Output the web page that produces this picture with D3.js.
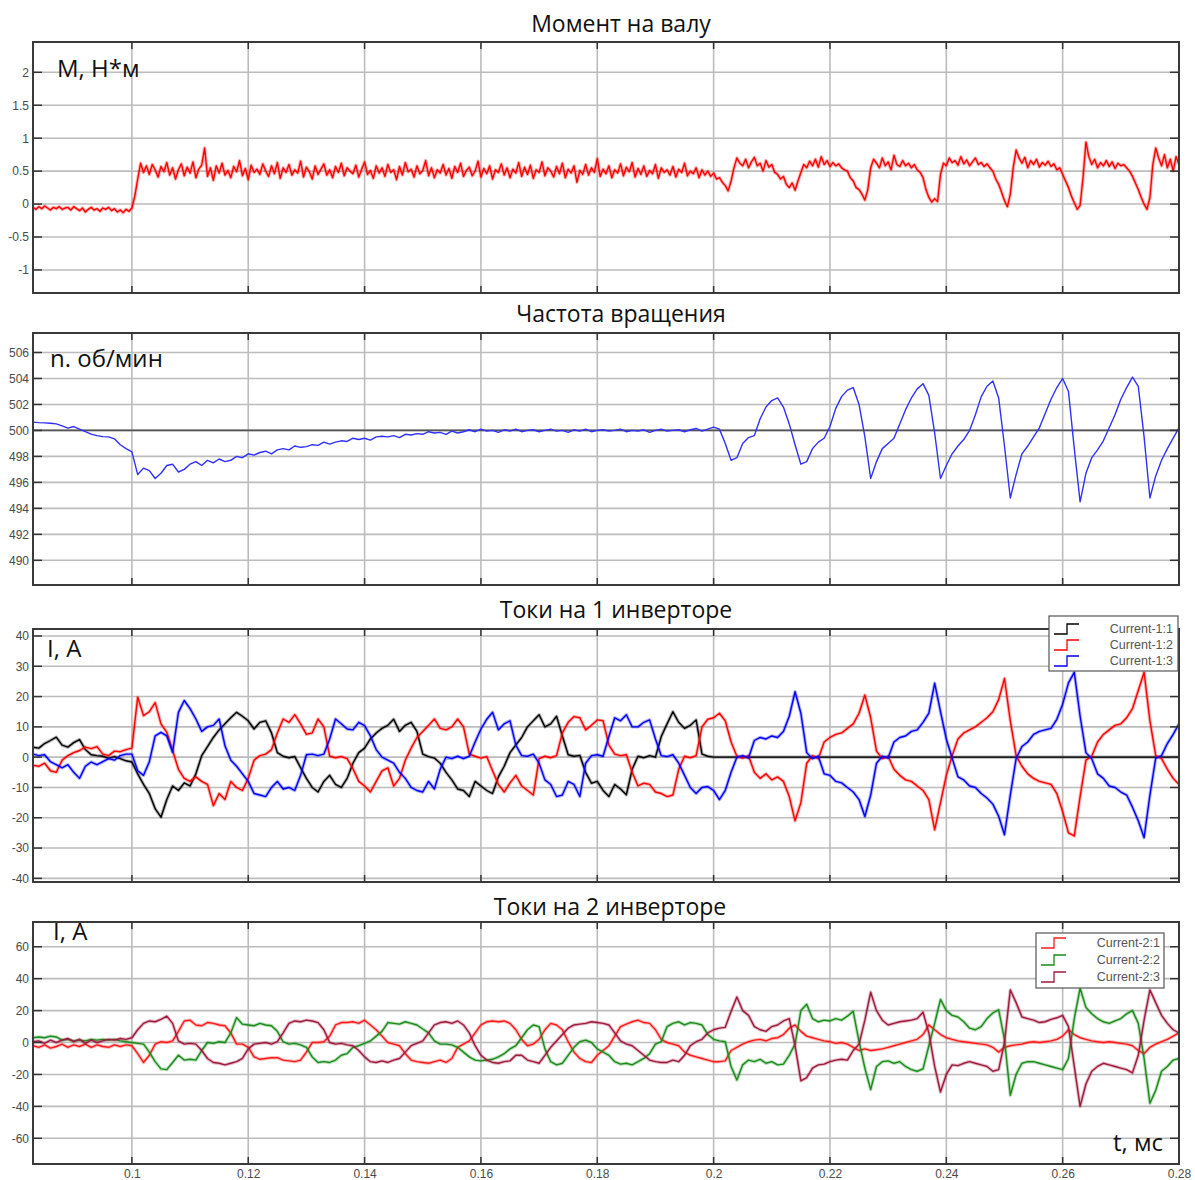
<!DOCTYPE html>
<html>
<head>
<meta charset="utf-8">
<title>Момент на валу, частота вращения, токи инверторов</title>
<script src="https://d3js.org/d3.v7.min.js"></script>
<style>
  body { margin: 0; background: #fff; }
  svg text { font-family: "Liberation Sans", Arial, sans-serif; }
  .tick text { font-size: 12px; fill: #4a4a4a; }
  .title { font-family: "Open Sans", sans-serif; font-size: 23px; fill: #111; }
  .unit { font-family: "Open Sans", sans-serif; font-size: 24px; fill: #111; }
  .leg { font-size: 12.5px; fill: #555; }
</style>
</head>
<body>
<script>
// samples start at t0 and are evenly spaced (step given per series)
const t0 = 0.083;
const tEnd = 0.28;
const xTickValues = [0.1, 0.12, 0.14, 0.16, 0.18, 0.2, 0.22, 0.24, 0.26, 0.28];

const torqueTicks = [-1, -0.5, 0, 0.5, 1, 1.5, 2];
const speedTicks = [490, 492, 494, 496, 498, 500, 502, 504, 506];
const cur1Ticks = [-40, -30, -20, -10, 0, 10, 20, 30, 40];
const cur2Ticks = [-60, -40, -20, 0, 20, 40, 60];

// torque, step 0.0005 s
const torqueStep = 0.0005;
const torque = [
  -0.05,-0.08,-0.04,-0.07,-0.03,-0.06,-0.09,-0.05,-0.07,-0.04,
  -0.08,-0.06,-0.05,-0.09,-0.04,-0.07,-0.10,-0.06,-0.12,-0.08,
  -0.05,-0.09,-0.07,-0.11,-0.06,-0.08,-0.05,-0.10,-0.07,-0.12,
  -0.09,-0.13,-0.08,-0.11,-0.06,0.12,0.38,0.62,0.48,0.58,
  0.45,0.60,0.52,0.41,0.57,0.49,0.63,0.44,0.55,0.38,
  0.52,0.61,0.43,0.56,0.47,0.64,0.40,0.53,0.59,0.85,
  0.42,0.55,0.36,0.58,0.47,0.62,0.44,0.51,0.40,0.57,
  0.49,0.66,0.43,0.54,0.37,0.59,0.48,0.53,0.45,0.61,
  0.50,0.42,0.58,0.46,0.63,0.39,0.55,0.48,0.60,0.44,
  0.52,0.47,0.65,0.41,0.56,0.49,0.38,0.58,0.45,0.53,
  0.61,0.44,0.52,0.40,0.57,0.48,0.62,0.43,0.55,0.50,
  0.46,0.59,0.41,0.53,0.64,0.45,0.51,0.39,0.58,0.47,
  0.55,0.42,0.60,0.48,0.52,0.37,0.57,0.44,0.63,0.49,
  0.53,0.41,0.58,0.46,0.51,0.66,0.43,0.55,0.40,0.52,
  0.47,0.60,0.44,0.54,0.39,0.57,0.48,0.62,0.42,0.51,
  0.56,0.43,0.50,0.65,0.41,0.54,0.46,0.58,0.38,0.52,
  0.48,0.61,0.44,0.55,0.40,0.53,0.47,0.63,0.42,0.56,
  0.45,0.59,0.39,0.52,0.48,0.64,0.43,0.55,0.50,0.41,
  0.57,0.46,0.62,0.40,0.53,0.47,0.58,0.33,0.51,0.45,
  0.60,0.44,0.55,0.48,0.69,0.42,0.53,0.46,0.58,0.40,
  0.52,0.47,0.61,0.43,0.56,0.49,0.63,0.41,0.54,0.45,
  0.58,0.42,0.51,0.46,0.60,0.39,0.55,0.48,0.52,0.44,
  0.57,0.41,0.53,0.48,0.62,0.43,0.50,0.46,0.55,0.40,
  0.52,0.44,0.50,0.42,0.47,0.38,0.40,0.33,0.28,0.20,
  0.35,0.55,0.70,0.62,0.58,0.68,0.55,0.64,0.71,0.58,
  0.62,0.50,0.66,0.56,0.60,0.48,0.45,0.38,0.42,0.30,
  0.25,0.32,0.21,0.35,0.48,0.60,0.55,0.65,0.58,0.68,
  0.56,0.72,0.60,0.66,0.57,0.63,0.58,0.61,0.55,0.52,
  0.50,0.40,0.35,0.25,0.22,0.15,0.06,0.22,0.55,0.68,
  0.62,0.55,0.70,0.58,0.64,0.52,0.74,0.60,0.57,0.66,
  0.58,0.62,0.55,0.60,0.52,0.48,0.40,0.22,0.10,0.03,
  0.08,0.04,0.45,0.62,0.58,0.70,0.63,0.66,0.59,0.72,
  0.61,0.67,0.58,0.64,0.70,0.60,0.63,0.57,0.61,0.55,
  0.50,0.38,0.30,0.18,0.05,-0.04,0.15,0.55,0.82,0.70,
  0.62,0.71,0.55,0.66,0.60,0.68,0.56,0.63,0.59,0.65,
  0.57,0.61,0.52,0.55,0.45,0.35,0.25,0.12,0.02,-0.08,
  -0.02,0.40,0.94,0.72,0.60,0.68,0.55,0.63,0.58,0.66,
  0.57,0.64,0.54,0.62,0.58,0.60,0.55,0.50,0.42,0.32,
  0.22,0.10,0.00,-0.08,0.10,0.60,0.85,0.70,0.58,0.75,
  0.55,0.68,0.50,0.72,0.60
];

// speed, step 0.001 s
const speedStep = 0.001;
const speed = [
  500.64,500.6,500.58,500.55,500.5,500.35,500.18,500.3,500.1,499.9,
  499.72,499.6,499.52,499.5,499.35,498.9,498.6,498.35,496.6,497.1,
  496.9,496.3,496.7,497.3,497.4,496.8,497.0,497.4,497.6,497.3,
  497.7,497.5,497.8,497.6,497.7,498.0,497.9,498.2,498.1,498.3,
  498.4,498.2,498.5,498.6,498.5,498.8,498.7,498.75,498.9,498.85,
  499.1,498.95,499.1,499.2,499.15,499.4,499.3,499.4,499.25,499.5,
  499.55,499.5,499.6,499.45,499.7,499.65,499.75,499.7,499.9,499.8,
  499.85,499.7,499.95,499.8,499.9,500.05,499.9,500.1,499.95,500.0,
  499.85,500.05,499.95,500.1,499.9,500.0,500.05,499.9,500.0,500.1,
  499.95,500.0,499.85,500.05,499.95,500.1,499.9,500.0,500.05,499.95,
  500.0,500.1,499.9,500.0,499.95,500.05,499.85,500.0,500.1,499.95,
  500.0,500.05,499.9,500.05,500.15,499.95,500.1,500.25,500.1,499.0,
  497.7,497.9,499.0,499.45,499.6,500.9,501.8,502.3,502.5,501.8,
  500.5,498.9,497.4,497.6,498.6,499.1,499.4,500.3,501.7,502.6,
  503.1,503.3,502.0,499.5,496.3,497.6,498.6,499.0,499.4,500.5,
  501.6,502.5,503.2,503.6,502.7,499.8,496.3,497.3,498.2,498.8,
  499.3,500.0,501.2,502.6,503.4,503.8,502.5,498.8,494.8,496.6,
  498.2,498.8,499.5,500.2,501.3,502.4,503.3,504.0,503.0,498.6,
  494.5,496.7,497.9,498.5,499.2,500.2,501.2,502.4,503.3,504.1,
  503.4,499.5,494.8,496.5,497.7,498.6,499.4,500.2
];

// inverter 1 currents, step 0.001 s
const currentStep = 0.001;
const current11 = [
  3.3,3.0,4.5,5.5,6.6,4.0,3.3,4.8,5.8,2.5,
  0.8,0.5,0.3,-0.3,0.2,-0.5,-1.2,-1.6,-5.5,-9.0,
  -12.0,-17.0,-19.8,-14.0,-9.5,-11.0,-8.5,-9.5,-5.5,0.5,
  3.5,6.5,9.0,11.0,13.0,14.8,13.5,12.0,9.3,11.5,
  12.0,8.0,1.5,0.3,-0.2,0.2,-3.5,-7.0,-10.0,-11.5,
  -8.0,-6.0,-9.0,-10.0,-7.0,-2.0,1.5,3.0,6.0,8.0,
  9.5,10.5,12.5,8.5,10.5,11.5,8.5,1.0,0.2,-0.3,
  -2.0,-5.0,-7.5,-10.5,-11.0,-13.0,-8.0,-9.5,-11.0,-12.0,
  -6.5,-3.0,1.5,4.0,6.5,10.0,12.0,14.0,10.0,11.0,
  13.5,7.0,0.8,0.3,0.6,-5.0,-8.6,-8.0,-11.0,-13.0,
  -9.0,-10.5,-12.4,-4.0,0.3,-0.2,0.5,0.0,6.8,11.0,
  15.0,11.5,9.5,10.5,12.3,1.0,0.3,0.0,
  0,0,0,0,0,0,0,0,0,0,
  0,0,0,0,0,0,0,0,0,0,
  0,0,0,0,0,0,0,0,0,0,
  0,0,0,0,0,0,0,0,0,0,
  0,0,0,0,0,0,0,0,0,0,
  0,0,0,0,0,0,0,0,0,0,
  0,0,0,0,0,0,0,0,0,0,
  0,0,0,0,0,0,0,0,0,0
];
const current12 = [
  -2.7,-3.0,-2.0,-4.5,-5.0,-1.0,0.5,1.5,2.2,3.3,
  2.8,3.5,1.0,0.5,2.0,1.8,2.5,3.0,19.8,13.7,
  15.0,18.0,11.0,8.2,2.2,-4.0,-7.0,-8.0,-6.5,-8.0,
  -9.0,-16.0,-12.0,-14.0,-8.0,-10.0,-11.0,-7.0,-1.0,0.5,
  1.0,2.5,8.0,12.6,11.5,14.0,11.0,7.5,8.0,12.6,
  10.0,0.3,-0.2,0.2,-0.5,-3.8,-8.0,-9.5,-11.5,-8.0,
  -4.5,-3.5,-9.5,-7.0,-1.0,3.0,6.5,8.5,10.5,12.6,
  9.5,9.0,10.0,12.6,10.0,1.0,0.3,-0.3,0.2,-4.5,
  -9.0,-11.5,-8.5,-6.0,-9.5,-11.0,-12.5,-0.5,0.3,-0.2,
  0.5,8.0,11.5,13.4,13.0,9.0,10.5,12.3,12.0,4.0,
  1.0,0.5,0.8,-5.0,-9.5,-8.6,-9.0,-11.5,-12.0,-13.0,
  -12.5,-4.0,0.3,-0.2,0.5,10.0,12.5,13.0,14.5,12.0,
  5.0,0.3,-0.3,0.5,-5.0,-7.0,-5.5,-7.5,-6.5,-8.0,
  -13.0,-21.0,-15.0,-2.0,0.5,-0.5,5.0,6.5,7.5,8.0,
  9.5,11.0,14.5,20.5,13.0,2.0,-0.5,0.3,-4.0,-6.0,
  -7.5,-8.0,-9.5,-11.0,-14.0,-24.0,-15.0,-6.0,0.5,6.0,
  8.0,9.0,10.0,11.5,13.0,15.0,19.0,26.0,12.0,0.5,
  -3.0,-5.5,-7.0,-8.0,-8.5,-9.0,-12.0,-18.0,-25.0,-26.0,
  -13.0,-1.0,0.3,5.0,7.5,9.0,10.5,11.0,13.0,16.0,
  22.0,28.0,12.0,0.5,-0.5,-4.0,-7.0,-9.0
];
const current13 = [
  1.0,0.5,0.8,-1.5,-2.5,-3.5,-2.5,-5.0,-7.0,-3.0,
  -1.6,-2.5,-1.5,-0.5,-1.0,0.5,1.0,1.0,-4.5,-6.0,
  -1.5,7.0,8.2,7.0,1.6,14.8,18.7,16.0,12.6,8.5,
  10.0,10.5,12.6,3.8,-1.0,-3.0,-5.5,-8.0,-12.0,-12.5,
  -13.0,-10.0,-8.0,-10.5,-10.0,-11.0,-6.0,0.8,1.0,0.5,
  1.0,6.0,12.6,11.0,9.3,9.0,11.5,10.4,7.0,2.5,
  0.0,-1.0,-2.0,-5.0,-7.0,-10.0,-11.0,-11.5,-8.0,-10.5,
  -4.0,0.0,-0.5,0.3,-0.5,0.3,5.0,9.3,12.5,14.8,
  9.0,11.0,12.0,4.0,0.5,0.3,1.0,-2.0,-7.5,-9.0,
  -13.0,-12.5,-8.0,-9.0,-13.0,-2.0,0.5,0.8,0.3,6.8,
  13.0,12.0,14.0,10.0,10.0,11.5,12.3,6.0,0.5,0.2,
  0.8,-2.0,-6.0,-10.0,-12.0,-10.0,-9.7,-11.0,-14.0,-11.0,
  -5.0,0.0,0.5,-0.3,5.5,6.5,6.0,7.0,6.5,8.5,
  13.5,21.6,14.5,1.5,-0.5,0.3,-5.5,-6.0,-8.0,-8.5,
  -10.0,-11.5,-14.0,-19.6,-12.5,-2.0,0.3,-0.3,5.0,6.5,
  7.0,8.5,9.0,11.5,14.5,24.4,15.0,6.0,-0.3,-6.5,
  -7.5,-9.5,-10.0,-12.0,-13.5,-15.5,-19.5,-25.6,-12.5,-0.5,
  3.5,5.0,7.5,8.5,9.0,9.5,12.5,17.5,24.5,28.0,
  13.5,1.5,-0.5,-5.5,-7.0,-9.5,-10.0,-11.5,-12.5,-16.5,
  -21.0,-26.6,-12.5,-0.3,0.5,4.5,7.5,11.0
];

// inverter 2 currents, step 0.001 s
const current21 = [
  -2.0,-3.0,-1.5,-3.5,-2.5,-1.0,-3.0,-1.5,-2.5,-1.0,
  -3.0,-1.5,-2.5,-3.0,-1.5,-2.5,-1.5,-2.0,-7.0,-12.5,
  -8.0,-1.0,0.5,0.0,1.0,7.0,13.5,14.0,11.0,10.5,
  12.5,12.0,11.0,10.5,6.0,-1.0,-1.0,-3.0,-9.0,-10.5,
  -10.0,-9.5,-9.5,-11.0,-11.5,-12.0,-11.0,-6.0,0.0,0.0,
  0.5,4.0,11.0,12.5,12.5,13.0,12.0,14.0,11.0,8.0,
  4.0,0.0,-1.0,-2.0,-7.0,-11.0,-12.0,-12.5,-13.0,-12.0,
  -11.0,-12.5,-10.0,-3.0,-1.0,1.0,6.0,11.0,13.0,13.5,
  13.0,13.5,12.0,8.0,2.0,-2.0,-1.0,2.0,8.0,12.0,
  11.0,8.0,0.5,-6.0,-10.0,-12.0,-12.5,-8.0,-5.0,-2.0,
  4.0,10.0,11.5,13.0,14.0,12.5,12.0,8.0,2.0,0.0,
  -1.0,-2.0,-6.0,-8.0,-9.0,-10.0,-11.0,-12.0,-12.0,-11.5,
  -5.0,-3.0,-1.0,0.5,1.5,2.0,1.0,2.5,3.0,5.0,
  9.0,11.0,7.0,4.0,3.0,2.0,1.0,0.5,-0.5,0.0,
  -1.0,-3.0,-5.0,-4.0,-5.0,-4.5,-4.0,-3.0,-2.0,-1.0,
  0.0,1.0,2.0,5.0,11.0,8.0,5.0,3.0,2.0,1.0,
  0.5,0.0,-0.5,-1.0,-1.5,-3.0,-6.0,-3.0,-2.0,-1.5,
  -1.0,0.0,0.5,0.0,0.5,1.0,2.0,4.0,8.0,5.0,
  3.0,2.0,1.0,0.5,0.0,0.5,0.0,-0.5,-1.0,-2.0,
  -5.0,-7.0,-3.0,-1.0,0.5,2.0,4.0,6.0
];
const current22 = [
  3.0,3.5,3.0,4.0,3.5,1.5,2.0,1.0,1.5,1.0,
  2.0,1.5,2.0,1.5,2.0,1.0,0.5,0.0,-0.5,-1.0,
  -6.0,-12.0,-16.5,-17.0,-12.5,-8.0,-11.0,-10.5,-11.0,-5.0,
  0.0,-0.5,0.5,0.0,6.0,15.6,11.5,11.0,10.5,12.0,
  11.0,10.5,7.0,0.5,-1.0,-0.5,-1.5,-3.0,-9.0,-12.5,
  -12.0,-12.5,-11.0,-8.0,-7.0,-3.0,-2.0,-0.5,1.0,4.0,
  7.0,12.5,12.0,11.5,13.0,12.0,11.0,8.5,6.0,1.0,
  -1.0,-1.0,-1.5,-3.0,-6.0,-9.0,-11.0,-11.5,-11.0,-10.5,
  -9.0,-7.0,-4.0,-2.0,3.0,8.0,11.0,10.0,-4.0,-12.0,
  -14.0,-13.0,-8.0,-3.0,0.5,1.5,0.0,-4.0,-6.0,-8.0,
  -12.0,-13.5,-13.0,-14.0,-12.0,-10.0,-7.0,-1.0,0.5,10.0,
  12.0,13.0,11.0,12.5,12.0,11.0,5.0,2.0,1.0,0.5,
  -15.0,-23.5,-14.0,-11.0,-12.0,-10.5,-13.0,-12.0,-14.0,-13.5,
  -8.0,-1.0,20.0,24.0,15.0,13.0,14.0,13.5,15.0,14.0,
  16.5,19.5,0.5,-16.0,-29.5,-15.0,-12.0,-11.5,-13.0,-12.0,
  -15.0,-17.0,-18.0,-16.5,-2.0,12.0,27.0,20.0,17.0,16.0,
  13.0,9.0,8.0,10.0,15.0,18.5,20.5,2.0,-33.0,-20.0,
  -13.0,-12.0,-12.0,-13.0,-14.0,-15.0,-16.0,-17.0,-10.0,15.0,
  34.0,22.0,18.0,15.0,13.0,12.0,13.5,15.0,18.0,20.0,
  12.0,-10.0,-38.0,-30.0,-18.0,-15.0,-11.0,-10.0
];
const current23 = [
  0.5,1.0,-0.5,1.5,0.0,1.5,2.5,0.5,2.0,-0.5,
  1.5,0.0,1.0,2.0,1.5,2.5,2.0,3.0,8.0,12.0,
  13.5,13.0,14.5,16.5,12.0,1.0,-1.0,-0.5,-1.0,-5.0,
  -10.0,-12.5,-13.0,-14.0,-13.0,-12.0,-10.0,-4.0,-1.0,-0.5,
  0.0,-1.0,0.5,6.0,12.0,13.5,13.0,14.0,13.5,12.5,
  8.0,0.0,-1.0,-0.5,-1.5,-2.0,-5.0,-9.0,-12.0,-12.5,
  -11.5,-12.5,-11.0,-10.0,-6.0,-2.0,-0.5,1.0,6.0,11.0,
  12.5,13.0,12.0,13.5,11.0,6.0,-2.0,-8.0,-11.0,-12.5,
  -13.0,-12.0,-11.5,-8.0,-8.0,-11.0,-12.0,-13.0,-8.0,-3.0,
  1.0,5.0,9.0,11.0,11.5,12.0,13.0,12.5,12.0,11.0,
  6.0,1.0,-1.0,-2.0,-5.0,-8.0,-11.0,-12.0,-12.5,-12.5,
  -11.0,-12.0,-8.0,-2.0,0.5,2.0,6.0,8.0,9.0,9.5,
  19.5,28.5,20.0,17.0,10.0,8.0,7.0,10.0,11.0,13.5,
  15.0,-2.0,-24.0,-22.0,-16.0,-14.0,-13.5,-12.0,-11.0,-10.5,
  -11.0,-5.0,-1.0,14.0,31.5,20.0,14.0,11.0,12.0,13.0,
  13.5,14.0,15.0,19.0,6.0,-15.0,-31.0,-20.0,-14.0,-14.5,
  -13.0,-12.0,-13.0,-14.0,-15.0,-18.0,-17.0,0.0,33.0,25.0,
  16.0,15.0,14.0,12.5,13.0,14.5,15.5,17.0,10.0,-15.0,
  -40.0,-26.0,-18.0,-15.0,-13.0,-14.0,-15.0,-16.0,-17.0,-19.0,
  -8.0,14.0,33.0,25.0,17.0,12.0,8.0,6.0
];

const legend1 = ["Current-1:1", "Current-1:2", "Current-1:3"];
const legend2 = ["Current-2:1", "Current-2:2", "Current-2:3"];

const W = 1195, H = 1180;
const left = 33, right = 1179;

const svg = d3.select("body").append("svg")
  .attr("width", W)
  .attr("height", H);

const x = d3.scaleLinear().domain([t0, tEnd]).range([left, right]);

const panels = [
  { top: 42, bottom: 293, domain: [-1.35, 2.46], ticks: torqueTicks,
    title: "Момент на валу", titleX: 621, titleY: 32,
    unit: "М, Н*м", unitX: 57, unitY: 77,
    series: [{ values: torque, step: torqueStep, color: "#ff0000", halo: true }] },
  { top: 333, bottom: 585, domain: [488.1, 507.5], ticks: speedTicks, refLine: 500,
    title: "Частота вращения", titleX: 621, titleY: 322,
    unit: "n. об/мин", unitX: 50, unitY: 367,
    series: [{ values: speed, step: speedStep, color: "#3030ff" }] },
  { top: 629, bottom: 882, domain: [-41.2, 42.3], ticks: cur1Ticks,
    title: "Токи на 1 инверторе", titleX: 616, titleY: 618,
    unit: "I, A", unitX: 47, unitY: 657,
    series: [
      { values: current11, step: currentStep, color: "#000000", halo: true },
      { values: current12, step: currentStep, color: "#ff0000", halo: true },
      { values: current13, step: currentStep, color: "#0000ff", halo: true }
    ],
    legend: { names: legend1, x: 1049, y: 616, w: 129, h: 55, rows: [629, 645, 661], textX: 1173 } },
  { top: 922, bottom: 1164, domain: [-76.1, 75.5], ticks: cur2Ticks, xLabels: true,
    title: "Токи на 2 инверторе", titleX: 610, titleY: 915,
    unit: "I, A", unitX: 53, unitY: 940,
    series: [
      { values: current21, step: currentStep, color: "#ff1a1a", halo: true },
      { values: current22, step: currentStep, color: "#1a8c1a", halo: true },
      { values: current23, step: currentStep, color: "#9e1a3c", halo: true }
    ],
    legend: { names: legend2, x: 1036, y: 933, w: 128, h: 55, rows: [943, 960, 977], textX: 1160 } }
];

panels.forEach(function (p, pi) {
  const y = d3.scaleLinear().domain(p.domain).range([p.bottom, p.top]);
  const g = svg.append("g");

  // grid
  g.selectAll("line.hg").data(p.ticks).enter().append("line")
    .attr("x1", left).attr("x2", right)
    .attr("y1", d => y(d)).attr("y2", d => y(d))
    .attr("stroke", "#bcbcbc").attr("stroke-width", 1.6);
  g.selectAll("line.vg").data(xTickValues.filter(d => d < tEnd)).enter().append("line")
    .attr("x1", d => x(d)).attr("x2", d => x(d))
    .attr("y1", p.top).attr("y2", p.bottom)
    .attr("stroke", "#bcbcbc").attr("stroke-width", 1.6);

  if (p.refLine !== undefined) {
    g.append("line")
      .attr("x1", left).attr("x2", right)
      .attr("y1", y(p.refLine)).attr("y2", y(p.refLine))
      .attr("stroke", "#555").attr("stroke-width", 1.8);
  }

  // signals
  const clipId = "clip" + pi;
  svg.append("clipPath").attr("id", clipId).append("rect")
    .attr("x", left).attr("y", p.top)
    .attr("width", right - left).attr("height", p.bottom - p.top);

  p.series.forEach(function (s) {
    const line = d3.line()
      .x((d, i) => x(t0 + i * s.step))
      .y(d => y(d));
    // soft band under the trace, like the noisy scope record
    if (s.halo) {
      g.append("path")
        .datum(s.values)
        .attr("d", line)
        .attr("fill", "none")
        .attr("stroke", s.color)
        .attr("stroke-opacity", 0.3)
        .attr("stroke-width", 3.4)
        .attr("stroke-linejoin", "round")
        .attr("clip-path", "url(#" + clipId + ")");
    }
    g.append("path")
      .datum(s.values)
      .attr("d", line)
      .attr("fill", "none")
      .attr("stroke", s.color)
      .attr("stroke-width", 1.4)
      .attr("stroke-linejoin", "round")
      .attr("clip-path", "url(#" + clipId + ")");
  });

  // frame
  g.append("rect")
    .attr("x", left).attr("y", p.top)
    .attr("width", right - left).attr("height", p.bottom - p.top)
    .attr("fill", "none").attr("stroke", "#3a3a3a").attr("stroke-width", 2);

  // inner tick marks
  const inner = xTickValues.filter(d => d < tEnd);
  g.selectAll("line.tt").data(inner).enter().append("line")
    .attr("x1", d => x(d)).attr("x2", d => x(d))
    .attr("y1", p.top).attr("y2", p.top + 7)
    .attr("stroke", "#333").attr("stroke-width", 1.5);
  g.selectAll("line.tb").data(inner).enter().append("line")
    .attr("x1", d => x(d)).attr("x2", d => x(d))
    .attr("y1", p.bottom).attr("y2", p.bottom - 7)
    .attr("stroke", "#333").attr("stroke-width", 1.5);
  g.selectAll("line.tl").data(p.ticks).enter().append("line")
    .attr("x1", left).attr("x2", left + 9)
    .attr("y1", d => y(d)).attr("y2", d => y(d))
    .attr("stroke", "#333").attr("stroke-width", 1.5);
  g.selectAll("line.tr").data(p.ticks).enter().append("line")
    .attr("x1", right).attr("x2", right - 9)
    .attr("y1", d => y(d)).attr("y2", d => y(d))
    .attr("stroke", "#333").attr("stroke-width", 1.5);

  // y tick labels
  const yAxis = d3.axisLeft(y).tickValues(p.ticks).tickSize(0).tickPadding(4)
    .tickFormat(d => String(d));
  g.append("g")
    .attr("transform", "translate(" + left + ",0)")
    .call(yAxis)
    .call(a => a.select(".domain").remove());

  if (p.xLabels) {
    const xAxis = d3.axisBottom(x).tickValues(xTickValues).tickSize(0).tickPadding(5)
      .tickFormat(d => String(d));
    g.append("g")
      .attr("transform", "translate(0," + p.bottom + ")")
      .call(xAxis)
      .call(a => a.select(".domain").remove());
    g.append("text").attr("class", "unit")
      .attr("x", 1113).attr("y", 1151)
      .text("t, мс");
  }

  // titles and unit labels
  g.append("text").attr("class", "title")
    .attr("x", p.titleX).attr("y", p.titleY)
    .attr("text-anchor", "middle")
    .text(p.title);
  g.append("text").attr("class", "unit")
    .attr("x", p.unitX).attr("y", p.unitY)
    .text(p.unit);

  // legend
  if (p.legend) {
    const L = p.legend;
    const lg = g.append("g");
    lg.append("rect")
      .attr("x", L.x).attr("y", L.y).attr("width", L.w).attr("height", L.h)
      .attr("fill", "#fff").attr("stroke", "#555").attr("stroke-width", 1.2);
    L.names.forEach(function (name, k) {
      const cy = L.rows[k];
      const sx = L.x + 5;
      lg.append("path")
        .attr("d", "M" + sx + "," + (cy + 5) + "H" + (sx + 13) + "V" + (cy - 5) + "H" + (sx + 25))
        .attr("fill", "none")
        .attr("stroke", p.series[k].color)
        .attr("stroke-width", 1.3);
      lg.append("text").attr("class", "leg")
        .attr("x", L.textX).attr("y", cy + 4)
        .attr("text-anchor", "end")
        .text(name);
    });
  }
});
</script>
</body>
</html>
